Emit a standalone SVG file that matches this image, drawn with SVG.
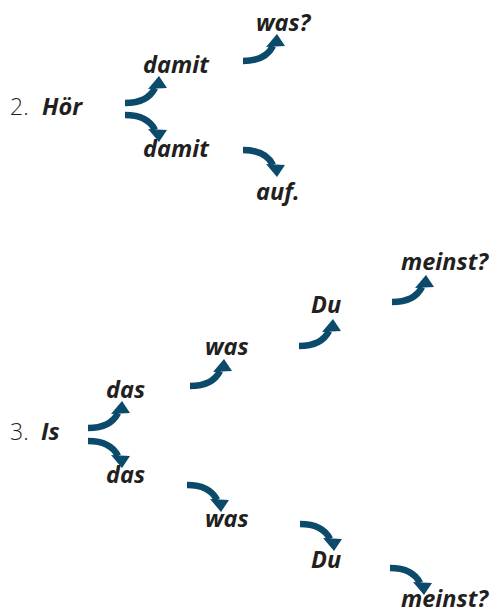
<svg xmlns="http://www.w3.org/2000/svg" xmlns:xlink="http://www.w3.org/1999/xlink" width="495" height="615" viewBox="0 0 495 615">
<style>
.w{font-family:"Open Sans","Liberation Sans",sans-serif;font-weight:700;font-style:italic;font-size:23.5px;fill:#231f20}
.n{font-family:"Open Sans","Liberation Sans",sans-serif;font-weight:300;font-size:23px;fill:#231f20}
</style>
<defs>
<g id="up">
<path d="M0,0 C12,0 24,-3 30,-15" fill="none" stroke="#0b4a6b" stroke-width="6.5"/>
<polygon points="34,-27 23,-14 42,-15" fill="#0b4a6b"/>
</g>
<g id="dn" transform="scale(1,-1)"><use xlink:href="#up"/></g>
</defs>
<g id="n2"><text class="n" x="10" y="115">2.</text><text class="w" x="42" y="115">Hör</text></g>
<g id="damit1"><text class="w" x="143" y="73">damit</text></g>
<g id="was1"><text class="w" x="256" y="31">was?</text></g>
<g id="damit2"><text class="w" x="143" y="157">damit</text></g>
<g id="auf"><text class="w" x="256" y="200">auf.</text></g>
<g id="n3"><text class="n" x="10" y="440">3.</text><text class="w" x="41" y="440">Is</text></g>
<g id="das1"><text class="w" x="106" y="398">das</text></g>
<g id="was2"><text class="w" x="205" y="355">was</text></g>
<g id="du1"><text class="w" x="311" y="313">Du</text></g>
<g id="meinst1"><text class="w" x="401" y="270">meinst?</text></g>
<g id="das2"><text class="w" x="106" y="483">das</text></g>
<g id="was3"><text class="w" x="205" y="527">was</text></g>
<g id="du2"><text class="w" x="311" y="568">Du</text></g>
<g id="meinst2"><text class="w" x="401" y="607">meinst?</text></g>
<g id="connectors">
<use xlink:href="#up" x="125" y="103"/>
<use xlink:href="#dn" transform="translate(125,115)"/>
<use xlink:href="#up" x="243" y="61"/>
<use xlink:href="#dn" transform="translate(243,150)"/>
<use xlink:href="#up" x="88" y="428"/>
<use xlink:href="#dn" transform="translate(88,441)"/>
<use xlink:href="#up" x="190" y="386"/>
<use xlink:href="#up" x="299" y="346"/>
<use xlink:href="#up" x="392" y="302"/>
<use xlink:href="#dn" transform="translate(187,485)"/>
<use xlink:href="#dn" transform="translate(300,524)"/>
<use xlink:href="#dn" transform="translate(390,568)"/>
</g>
</svg>
